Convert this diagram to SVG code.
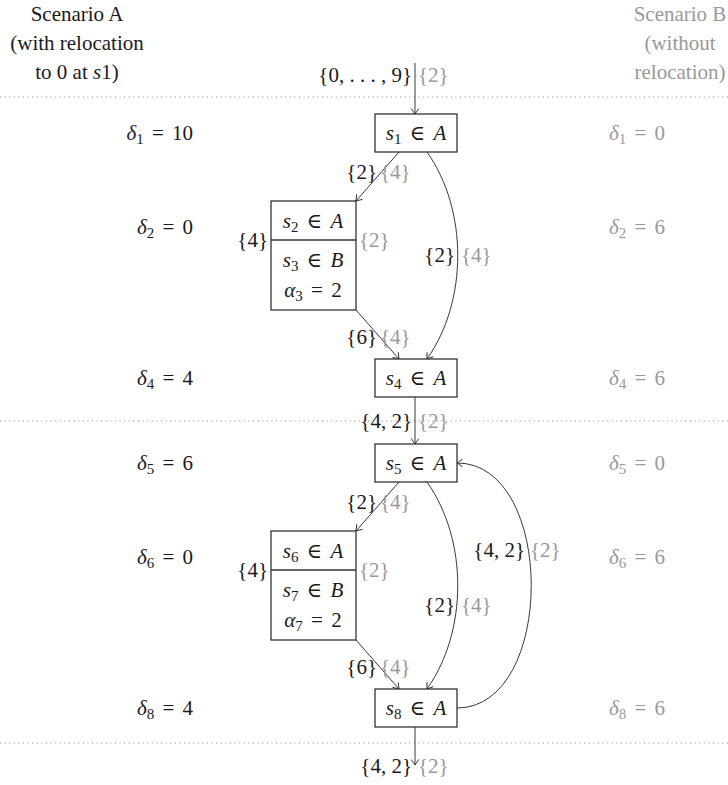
<svg xmlns="http://www.w3.org/2000/svg" width="728" height="785" viewBox="0 0 728 785" font-family="'Liberation Serif','Times New Roman','DejaVu Serif',serif">
<style>
.t{font-family:"Liberation Serif","Times New Roman","DejaVu Serif",serif;font-size:21px;fill:#1a1a1a}
.g{fill:#999}
.i{font-style:italic}
.m{text-anchor:middle}
.e{text-anchor:end}
.w{word-spacing:3px}
.node rect,.node line{fill:#fff;stroke:#333;stroke-width:1.3}
.edge{fill:none;stroke:#222;stroke-width:0.9;marker-end:url(#arr)}
.sep{stroke:#888;stroke-width:1;stroke-dasharray:1 3.6}
</style>
<defs>
<marker id="arr" viewBox="-7 -5 8 10" refX="0" refY="0" markerWidth="8" markerHeight="10" markerUnits="userSpaceOnUse" orient="auto">
<path d="M-5.5,-3.8 Q-1.5,-1 0,0 Q-1.5,1 -5.5,3.8" fill="none" stroke="#222" stroke-width="0.9"/>
</marker>
</defs>
<rect width="728" height="785" fill="#fff"/>

<g id="headers" class="t">
<text class="m" x="77" y="21">Scenario A</text>
<text class="m" x="77" y="50">(with relocation</text>
<text class="m" x="77" y="79">to 0 at <tspan class="i">s</tspan>1)</text>
<text class="m g" x="680" y="21">Scenario B</text>
<text class="m g" x="680" y="50">(without</text>
<text class="m g" x="680" y="79">relocation)</text>
</g>

<g id="separators">
<line class="sep" x1="0" y1="97" x2="728" y2="97"/>
<line class="sep" x1="0" y1="421" x2="728" y2="421"/>
<line class="sep" x1="0" y1="743" x2="728" y2="743"/>
</g>

<g id="deltas-a" class="t e w">
<text x="193" y="140"><tspan class="i">δ</tspan><tspan font-size="15" dy="4">1</tspan><tspan dy="-4"> = 10</tspan></text>
<text x="193" y="234"><tspan class="i">δ</tspan><tspan font-size="15" dy="4">2</tspan><tspan dy="-4"> = 0</tspan></text>
<text x="193" y="385"><tspan class="i">δ</tspan><tspan font-size="15" dy="4">4</tspan><tspan dy="-4"> = 4</tspan></text>
<text x="193" y="470"><tspan class="i">δ</tspan><tspan font-size="15" dy="4">5</tspan><tspan dy="-4"> = 6</tspan></text>
<text x="193" y="564"><tspan class="i">δ</tspan><tspan font-size="15" dy="4">6</tspan><tspan dy="-4"> = 0</tspan></text>
<text x="193" y="715"><tspan class="i">δ</tspan><tspan font-size="15" dy="4">8</tspan><tspan dy="-4"> = 4</tspan></text>
</g>
<g id="deltas-b" class="t g w">
<text x="609" y="140"><tspan class="i">δ</tspan><tspan font-size="15" dy="4">1</tspan><tspan dy="-4"> = 0</tspan></text>
<text x="609" y="234"><tspan class="i">δ</tspan><tspan font-size="15" dy="4">2</tspan><tspan dy="-4"> = 6</tspan></text>
<text x="609" y="385"><tspan class="i">δ</tspan><tspan font-size="15" dy="4">4</tspan><tspan dy="-4"> = 6</tspan></text>
<text x="609" y="470"><tspan class="i">δ</tspan><tspan font-size="15" dy="4">5</tspan><tspan dy="-4"> = 0</tspan></text>
<text x="609" y="564"><tspan class="i">δ</tspan><tspan font-size="15" dy="4">6</tspan><tspan dy="-4"> = 6</tspan></text>
<text x="609" y="715"><tspan class="i">δ</tspan><tspan font-size="15" dy="4">8</tspan><tspan dy="-4"> = 6</tspan></text>
</g>

<g id="connectors">
<path class="edge" d="M415,63 V114"/>
<path class="edge" d="M399,152 L356,201"/>
<path class="edge" d="M356,310 L399,359"/>
<path class="edge" d="M427,152 C468,210 468,301 427,359"/>
<path class="edge" d="M415,397 V444"/>
<path class="edge" d="M399,482 L356,531"/>
<path class="edge" d="M356,640 L399,689"/>
<path class="edge" d="M427,482 C468,540 468,631 427,689"/>
<path class="edge" d="M457,708 C556,708 556,463 457,463"/>
<path class="edge" d="M415,727 V765"/>
</g>

<g id="edge-labels" class="t">
<text class="e" x="412" y="82">{0, . . . , 9}</text><text class="g" x="418" y="82">{2}</text>
<text class="e" x="377" y="179">{2}</text><text class="g" x="380" y="179">{4}</text>
<text class="e" x="268" y="247">{4}</text><text class="g" x="359" y="247">{2}</text>
<text class="e" x="455" y="262">{2}</text><text class="g" x="461" y="262">{4}</text>
<text class="e" x="377" y="344">{6}</text><text class="g" x="380" y="344">{4}</text>
<text class="e" x="412" y="428">{4, 2}</text><text class="g" x="418" y="428">{2}</text>
<text class="e" x="377" y="509">{2}</text><text class="g" x="380" y="509">{4}</text>
<text class="e" x="268" y="577">{4}</text><text class="g" x="359" y="577">{2}</text>
<text class="e" x="525" y="557">{4, 2}</text><text class="g" x="530" y="557">{2}</text>
<text class="e" x="455" y="612">{2}</text><text class="g" x="461" y="612">{4}</text>
<text class="e" x="377" y="674">{6}</text><text class="g" x="380" y="674">{4}</text>
<text class="e" x="412" y="773">{4, 2}</text><text class="g" x="418" y="773">{2}</text>
</g>

<g id="s1" class="node"><rect x="375" y="114" width="82" height="38"/>
<text class="t m w" x="416" y="140"><tspan class="i">s</tspan><tspan font-size="15" dy="4">1</tspan><tspan dy="-4"> ∈ </tspan><tspan class="i">A</tspan></text></g>
<g id="s2s3" class="node"><rect x="271" y="201" width="85" height="109"/><line x1="271" y1="240" x2="356" y2="240"/>
<text class="t m w" x="313" y="228"><tspan class="i">s</tspan><tspan font-size="15" dy="4">2</tspan><tspan dy="-4"> ∈ </tspan><tspan class="i">A</tspan></text>
<text class="t m w" x="313" y="267"><tspan class="i">s</tspan><tspan font-size="15" dy="4">3</tspan><tspan dy="-4"> ∈ </tspan><tspan class="i">B</tspan></text>
<text class="t m w" x="313" y="297"><tspan class="i">α</tspan><tspan font-size="15" dy="4">3</tspan><tspan dy="-4"> = 2</tspan></text></g>
<g id="s4" class="node"><rect x="375" y="359" width="82" height="38"/>
<text class="t m w" x="416" y="385"><tspan class="i">s</tspan><tspan font-size="15" dy="4">4</tspan><tspan dy="-4"> ∈ </tspan><tspan class="i">A</tspan></text></g>
<g id="s5" class="node"><rect x="375" y="444" width="82" height="38"/>
<text class="t m w" x="416" y="470"><tspan class="i">s</tspan><tspan font-size="15" dy="4">5</tspan><tspan dy="-4"> ∈ </tspan><tspan class="i">A</tspan></text></g>
<g id="s6s7" class="node"><rect x="271" y="531" width="85" height="109"/><line x1="271" y1="570" x2="356" y2="570"/>
<text class="t m w" x="313" y="558"><tspan class="i">s</tspan><tspan font-size="15" dy="4">6</tspan><tspan dy="-4"> ∈ </tspan><tspan class="i">A</tspan></text>
<text class="t m w" x="313" y="597"><tspan class="i">s</tspan><tspan font-size="15" dy="4">7</tspan><tspan dy="-4"> ∈ </tspan><tspan class="i">B</tspan></text>
<text class="t m w" x="313" y="627"><tspan class="i">α</tspan><tspan font-size="15" dy="4">7</tspan><tspan dy="-4"> = 2</tspan></text></g>
<g id="s8" class="node"><rect x="375" y="689" width="82" height="38"/>
<text class="t m w" x="416" y="715"><tspan class="i">s</tspan><tspan font-size="15" dy="4">8</tspan><tspan dy="-4"> ∈ </tspan><tspan class="i">A</tspan></text></g>
</svg>
